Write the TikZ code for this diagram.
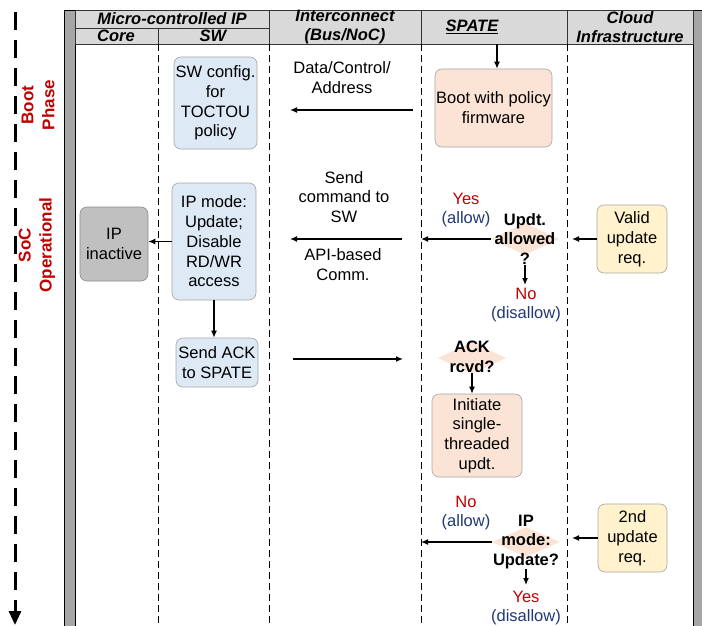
\documentclass[tikz,border=0pt]{standalone}
\usepackage{fontspec}
\setmainfont{Liberation Sans}
\usetikzlibrary{arrows.meta,shapes.geometric}
\definecolor{hdrgray}{RGB}{217,217,217}
\definecolor{bargray}{RGB}{166,166,166}
\definecolor{swblue}{RGB}{222,233,246}
\definecolor{spatepeach}{RGB}{251,228,213}
\definecolor{cloudyellow}{RGB}{255,242,204}
\definecolor{coregray}{RGB}{192,192,192}
\definecolor{phasered}{RGB}{192,0,0}
\definecolor{allowblue}{RGB}{32,56,120}

\begin{document}
\begin{tikzpicture}[x=1pt,y=-1pt,
  every node/.style={font=\fontsize{16.5}{19.8}\selectfont,align=center,inner sep=0pt},
  hdr/.style={font=\fontsize{16.5}{19}\selectfont\bfseries\itshape},
  phase/.style={font=\fontsize{17}{21}\selectfont\bfseries,text=phasered,rotate=90},
  box/.style={rectangle,rounded corners=7pt,line width=0.6pt},
  swbox/.style={box,fill=swblue,draw=black!35},
  spatebox/.style={box,fill=spatepeach,draw=black!35},
  cloudbox/.style={box,fill=cloudyellow,draw=black!35},
  corebox/.style={box,fill=coregray,draw=black!45},
  dia/.style={diamond,fill=spatepeach,minimum width=68pt,minimum height=32pt},
  dtext/.style={font=\fontsize{16.5}{19.5}\selectfont\bfseries},
  lane/.style={line width=0.7pt,dash pattern=on 7pt off 4pt},
  flow/.style={line width=1.3pt,-{Latex[length=7pt,width=6pt]}}]
\useasboundingbox (0,0) rectangle (702,626);

% time axis
\coordinate (t0) at (15,12); \coordinate (t1) at (15,625);
\draw[line width=3pt,dash pattern=on 18pt off 10pt,-{Triangle[length=14pt,width=12pt]}] (t0) -- (t1);
\node[phase] (pboot) at (38,105) {Boot\\Phase};
\node[phase] (psoc) at (37,245) {SoC\\Operational};

% side bars and header
\filldraw[fill=bargray,draw=black,line width=0.8pt] (64,10) rectangle (75,626);
\filldraw[fill=bargray,draw=black,line width=0.8pt] (693,10) rectangle (702,626);
\filldraw[fill=hdrgray,draw=black!80,line width=0.8pt] (75,10) rectangle (693,44);
\draw[black!80,line width=0.8pt] (75,28) -- (269,28) (158,28) -- (158,44);
\foreach \x in {269,421,567} \draw[black!80,line width=0.8pt] (\x,10) -- (\x,44);
\foreach \x in {158,269,421,567} \draw[lane] (\x,44) -- (\x,626);

\node[hdr] (hmcip) at (172,19) {Micro-controlled IP};
\node[hdr] (hcore) at (116,36) {Core};
\node[hdr] (hsw) at (213,36) {SW};
\node[hdr] (hnoc) at (345,27) {Interconnect\\(Bus/NoC)};
\node[hdr] (hspate) at (472,27) {\underline{SPATE}};
\node[hdr] (hcloud) at (630,27) {Cloud\\Infrastructure};

% boot phase
\node[swbox,minimum width=83pt,minimum height=92pt] (swcfg) at (215.5,103) {SW config.\\for\\TOCTOU\\policy};
\node[spatebox,minimum width=117pt,minimum height=78pt] (boot) at (493.5,108) {Boot with policy\\firmware};
\coordinate (bootin) at (497,44);
\draw[flow] (bootin) -- (bootin |- boot.north);
\node (dca) at (342,78) {Data/Control/\\Address};
\coordinate (dcar) at (413,110); \coordinate (dcal) at (290,110);
\draw[flow] (dcar) -- (dcal);

% operational: update request
\node[corebox,minimum width=68pt,minimum height=74pt] (ipinact) at (114,244) {IP\\inactive};
\node[swbox,minimum width=84pt,minimum height=117pt] (ipmode) at (214,241.5) {IP mode:\\Update;\\Disable\\RD/WR\\access};
\node[swbox,minimum width=82pt,minimum height=49pt] (sendack) at (217,362.5) {Send ACK\\to SPATE};
\node[cloudbox,minimum width=70pt,minimum height=68pt] (validreq) at (632,239) {Valid\\update\\req.};
\node[dia] (qallow) at (525,239) {};
\node[dtext] (qallowt) at (525,239) {Updt.\\allowed\\?};
\node (cmd) at (344,197) {Send\\command to\\SW};
\node (api) at (343,265) {API-based\\Comm.};
\node (yes1) at (466,210) {\textcolor{phasered}{Yes}\\\textcolor{allowblue}{(allow)}};
\node (no1) at (526,305) {\textcolor{phasered}{No}\\\textcolor{allowblue}{(disallow)}};
\coordinate (vin) at (572,239); \coordinate (spl) at (421,239);
\coordinate (cmdr) at (402,239); \coordinate (cmdl) at (290,239);
\coordinate (nodown) at (525,285);
\draw[flow] (validreq.west) -- (vin);
\draw[flow] (qallow.west) -- (spl);
\draw[flow] (cmdr) -- (cmdl);
\draw[flow] (ipmode.west) -- (ipinact.east |- ipmode.west);
\draw[flow] (qallowt.south) -- (nodown);
\draw[flow] (ipmode.south) -- (ipmode.south |- sendack.north);

% acknowledgement
\node[dia] (qack) at (472,358) {};
\node[dtext] (qackt) at (472,357) {ACK\\rcvd?};
\node[spatebox,minimum width=90pt,minimum height=83pt] (initiate) at (477,435.5) {Initiate\\single-\\threaded\\updt.};
\coordinate (ackl) at (293,359); \coordinate (ackr) at (403,359);
\draw[flow] (ackl) -- (ackr);
\draw[flow] (qackt.south) -- (qackt.south |- initiate.north);

% second update request
\node[cloudbox,minimum width=69pt,minimum height=68pt] (secreq) at (632.5,538) {2nd\\update\\req.};
\node[dia,minimum height=30pt] (qmode) at (526,542) {};
\node[dtext] (qmodet) at (526,542) {IP\\mode:\\Update?};
\node (no2) at (466,513) {\textcolor{phasered}{No}\\\textcolor{allowblue}{(allow)}};
\node (yes2) at (526,608) {\textcolor{phasered}{Yes}\\\textcolor{allowblue}{(disallow)}};
\coordinate (sin) at (572,538); \coordinate (spl2) at (421,542);
\coordinate (yesdown) at (526,585);
\draw[flow] (secreq.west) -- (sin);
\draw[flow] (qmode.west) -- (spl2);
\draw[flow] (qmodet.south) -- (yesdown);
\end{tikzpicture}
\end{document}
